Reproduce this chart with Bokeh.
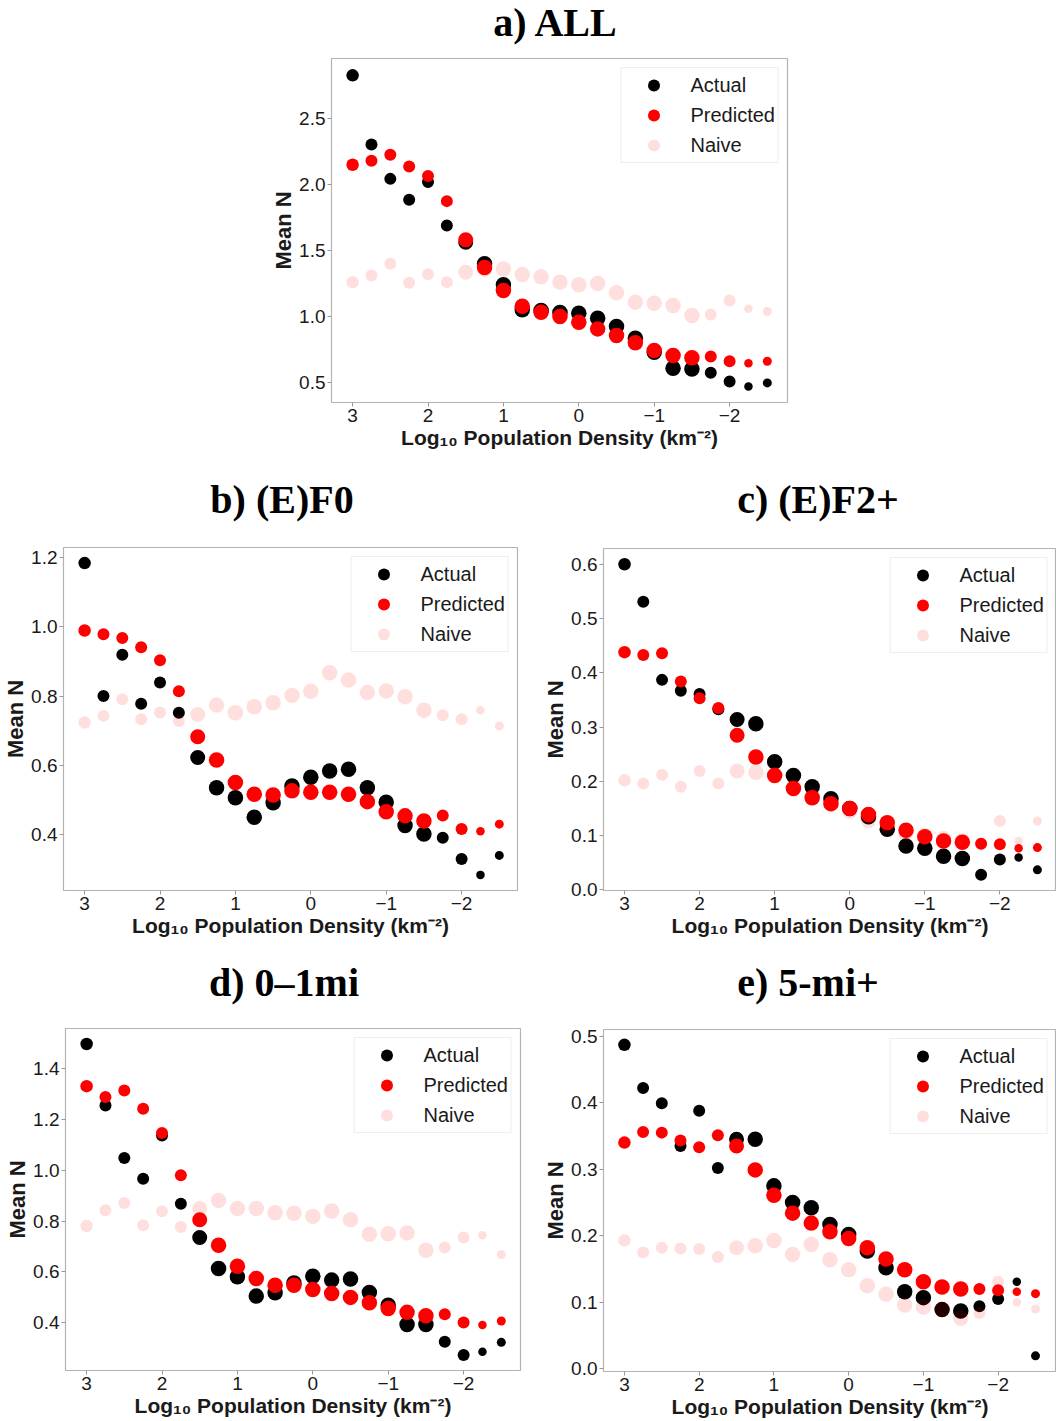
from bokeh.plotting import figure
from bokeh.layouts import column, row
from bokeh.models import Range1d, FixedTicker, PrintfTickFormatter, ColumnDataSource, Div
from bokeh.embed import file_html
from bokeh.resources import INLINE

# ---------------- data ----------------
density = [3.0, 2.75, 2.5, 2.25, 2.0, 1.75, 1.5, 1.25, 1.0, 0.75, 0.5, 0.25, 0.0,
           -0.25, -0.5, -0.75, -1.0, -1.25, -1.5, -1.75, -2.0, -2.25, -2.5]
x_ticks = [3, 2, 1, 0, -1, -2]
x_tick_labels = {3: "3", 2: "2", 1: "1", 0: "0", -1: "\u22121", -2: "\u22122"}

# marker diameter per density bin (style)
marker_px = [12.5, 12, 12, 12, 12, 12, 15, 15.5, 15.5, 15.5, 15.5, 15.5, 15.5,
             15.5, 15.5, 15.5, 15.5, 15.5, 15.5, 12, 12, 8.5, 9]

series_names = ["Actual", "Predicted", "Naive"]
panel_titles = ["a) ALL", "b) (E)F0", "c) (E)F2+", "d) 0\u20131mi", "e) 5-mi+"]

all_actual = [2.83, 2.305, 2.044, 1.885, 2.02, 1.69, 1.563, 1.40, 1.24, 1.05, 1.044, 1.03, 1.024,
              0.986, 0.923, 0.834, 0.728, 0.606, 0.601, 0.571, 0.505, 0.467, 0.495]
all_predicted = [2.151, 2.181, 2.227, 2.138, 2.065, 1.875, 1.581, 1.371, 1.196, 1.077, 1.032, 0.999, 0.956,
                 0.905, 0.854, 0.799, 0.741, 0.703, 0.685, 0.695, 0.659, 0.644, 0.659]
all_naive = [1.26, 1.31, 1.40, 1.255, 1.32, 1.26, 1.335, 1.36, 1.36, 1.318, 1.30, 1.26, 1.24,
             1.25, 1.18, 1.108, 1.10, 1.082, 1.006, 1.014, 1.12, 1.057, 1.037]

f0_actual = [1.183, 0.80, 0.919, 0.778, 0.839, 0.752, 0.623, 0.536, 0.507, 0.451, 0.493, 0.541, 0.566,
             0.584, 0.589, 0.536, 0.494, 0.427, 0.403, 0.392, 0.331, 0.285, 0.341]
f0_predicted = [0.989, 0.978, 0.967, 0.941, 0.903, 0.814, 0.683, 0.616, 0.551, 0.517, 0.515, 0.527, 0.523,
                0.523, 0.517, 0.496, 0.467, 0.455, 0.440, 0.456, 0.417, 0.411, 0.431]
f0_naive = [0.724, 0.743, 0.791, 0.733, 0.753, 0.728, 0.747, 0.774, 0.752, 0.769, 0.781, 0.802, 0.814,
            0.867, 0.846, 0.810, 0.815, 0.798, 0.759, 0.745, 0.733, 0.759, 0.714]

f2_actual = [0.60, 0.531, 0.387, 0.367, 0.361, 0.333, 0.314, 0.306, 0.236, 0.211, 0.190, 0.168, 0.150,
             0.135, 0.112, 0.081, 0.077, 0.062, 0.058, 0.028, 0.056, 0.060, 0.037]
f2_predicted = [0.438, 0.433, 0.436, 0.384, 0.353, 0.335, 0.285, 0.245, 0.211, 0.187, 0.170, 0.159, 0.150,
                0.139, 0.124, 0.110, 0.098, 0.090, 0.088, 0.085, 0.084, 0.077, 0.078]
f2_naive = [0.202, 0.196, 0.212, 0.190, 0.219, 0.196, 0.219, 0.217, 0.213, 0.190, 0.172, 0.158, 0.145,
            0.128, 0.118, 0.105, 0.100, 0.095, 0.090, 0.085, 0.127, 0.090, 0.127]

mi01_actual = [1.498, 1.256, 1.049, 0.967, 1.138, 0.869, 0.736, 0.614, 0.581, 0.505, 0.518, 0.557, 0.583,
               0.568, 0.572, 0.519, 0.469, 0.393, 0.393, 0.325, 0.273, 0.286, 0.323]
mi01_predicted = [1.332, 1.289, 1.315, 1.243, 1.147, 0.981, 0.806, 0.705, 0.623, 0.574, 0.548, 0.548, 0.531,
                  0.515, 0.500, 0.479, 0.456, 0.441, 0.428, 0.434, 0.401, 0.391, 0.407]
mi01_naive = [0.781, 0.843, 0.872, 0.784, 0.839, 0.777, 0.850, 0.882, 0.850, 0.850, 0.833, 0.831, 0.819,
              0.840, 0.806, 0.749, 0.751, 0.754, 0.686, 0.696, 0.736, 0.745, 0.669]

mi5_actual = [0.487, 0.422, 0.399, 0.335, 0.388, 0.302, 0.345, 0.345, 0.275, 0.250, 0.242, 0.217, 0.202,
              0.177, 0.152, 0.116, 0.107, 0.089, 0.087, 0.094, 0.105, 0.131, 0.0195]
mi5_predicted = [0.340, 0.356, 0.355, 0.343, 0.333, 0.351, 0.335, 0.299, 0.261, 0.234, 0.219, 0.206, 0.196,
                 0.182, 0.165, 0.149, 0.131, 0.123, 0.120, 0.120, 0.118, 0.116, 0.113]
mi5_naive = [0.193, 0.175, 0.182, 0.181, 0.180, 0.168, 0.182, 0.185, 0.193, 0.172, 0.187, 0.164, 0.149,
             0.125, 0.112, 0.096, 0.093, 0.089, 0.076, 0.084, 0.131, 0.100, 0.090]

y_ticks_all = [0.5, 1.0, 1.5, 2.0, 2.5]
y_ticks_f0 = [0.4, 0.6, 0.8, 1.0, 1.2]
y_ticks_f2 = [0.0, 0.1, 0.2, 0.3, 0.4, 0.5, 0.6]
y_ticks_mi01 = [0.4, 0.6, 0.8, 1.0, 1.2, 1.4]
y_ticks_mi5 = [0.0, 0.1, 0.2, 0.3, 0.4, 0.5]

# ---------------- styling ----------------
SANS = "Liberation Sans"
SERIF = "Liberation Serif"
PX_PER_UNIT = 75.4
X_START = 3.28


def title_div(text, width, height, center_x, pad_top):
    shift = center_x - width / 2.0
    html = ('<div style="position:relative; left:%.1fpx; width:%dpx; text-align:center; '
            'font-family:\'%s\'; font-weight:bold; font-size:40px; line-height:40px; '
            'padding-top:%.1fpx; color:black; white-space:nowrap;">%s</div>'
            % (shift, width, SERIF, pad_top, text))
    return Div(text=html, width=width, height=height, margin=0)


def make_panel(actual, predicted, naive, yticks, yrange, width, height,
               left, right, top, bottom):
    frame_w = width - left - right
    x_end = X_START - frame_w / PX_PER_UNIT
    p = figure(width=width, height=height, output_backend="svg", toolbar_location=None,
               x_range=Range1d(X_START, x_end), y_range=Range1d(*yrange),
               min_border_left=left, min_border_right=right,
               min_border_top=top, min_border_bottom=bottom, margin=0)

    src = ColumnDataSource(dict(x=density, a=actual, p=predicted, n=naive, s=marker_px))
    p.scatter("x", "a", source=src, size="s", fill_color="black", line_color=None,
              legend_label=series_names[0])
    p.scatter("x", "p", source=src, size="s", fill_color="red", line_color=None,
              legend_label=series_names[1])
    p.scatter("x", "n", source=src, size="s", fill_color="red", fill_alpha=0.13, line_color=None,
              legend_label=series_names[2])

    p.xgrid.visible = False
    p.ygrid.visible = False
    p.outline_line_color = "#b3b3b3"
    p.outline_line_width = 1.2
    p.background_fill_color = "white"
    p.border_fill_color = "white"

    p.xaxis.ticker = FixedTicker(ticks=x_ticks)
    p.xaxis.major_label_overrides = x_tick_labels
    p.yaxis.ticker = FixedTicker(ticks=yticks)
    p.yaxis.formatter = PrintfTickFormatter(format="%.1f")
    for ax in (p.xaxis[0], p.yaxis[0]):
        ax.axis_line_color = None
        ax.major_tick_line_color = "#999999"
        ax.major_tick_out = 4
        ax.major_tick_in = 0
        ax.minor_tick_line_color = None
        ax.major_label_text_font = SANS
        ax.major_label_text_font_size = "19px"
        ax.major_label_text_color = "#1a1a1a"
        ax.major_label_standoff = 2
        ax.axis_label_text_font = SANS
        ax.axis_label_text_font_style = "bold"
        ax.axis_label_text_color = "#1a1a1a"
    p.xaxis.axis_label = "Log\u2081\u2080 Population Density (km\u207b\u00b2)"
    p.xaxis.axis_label_text_font_size = "21px"
    p.xaxis.axis_label_standoff = 1
    p.yaxis.axis_label = "Mean N"
    p.yaxis.axis_label_text_font_size = "22px"
    p.yaxis.axis_label_standoff = 0

    lg = p.legend[0]
    lg.location = "top_right"
    lg.margin = 9
    lg.padding = 2
    lg.spacing = 0
    lg.glyph_width = 60
    lg.glyph_height = 30
    lg.label_height = 30
    lg.label_standoff = 7
    lg.label_text_font = SANS
    lg.label_text_font_size = "20px"
    lg.label_text_color = "#1a1a1a"
    lg.border_line_color = "#dddddd"
    lg.border_line_width = 1
    lg.background_fill_alpha = 0.85
    return p


# row 1 (0..470): title div 46 + figure 424 (frame 58..402)
ta = title_div(panel_titles[0], 1056, 46, 555, 3)
pa = make_panel(all_actual, all_predicted, all_naive, y_ticks_all, (0.346, 2.958),
                1056, 424, 331, 269, 12, 68)

# row 2 (470..950): title div 60 + figure 420 (frame 547..890)
tb = title_div(panel_titles[1], 540, 60, 282, 9.5)
pb = make_panel(f0_actual, f0_predicted, f0_naive, y_ticks_f0, (0.240, 1.228),
                540, 420, 63, 23, 17, 60)
tc = title_div(panel_titles[2], 516, 60, 818 - 540, 9.5)
pc = make_panel(f2_actual, f2_predicted, f2_naive, y_ticks_f2, (-0.001, 0.629),
                516, 420, 61, 0, 18, 60)

# row 3 (950..1421): title div 60 + figure 411 (frame 1028..1370)
td = title_div(panel_titles[3], 540, 60, 284, 12.5)
pd = make_panel(mi01_actual, mi01_predicted, mi01_naive, y_ticks_mi01, (0.212, 1.559),
                540, 411, 65, 20, 18, 51)
te = title_div(panel_titles[4], 516, 60, 808 - 540, 12.5)
pe = make_panel(mi5_actual, mi5_predicted, mi5_naive, y_ticks_mi5, (-0.004, 0.510),
                516, 411, 59, 0, 19, 50)

layout = column(
    column(ta, pa, spacing=0),
    row(column(tb, pb, spacing=0), column(tc, pc, spacing=0), spacing=0),
    row(column(td, pd, spacing=0), column(te, pe, spacing=0), spacing=0),
    spacing=0,
)

open("out.html", "w").write(file_html(layout, INLINE))
